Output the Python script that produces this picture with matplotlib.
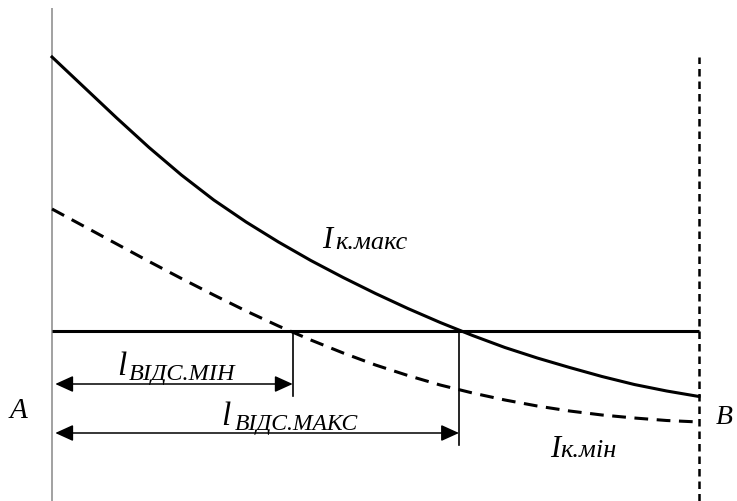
import matplotlib
matplotlib.use("Agg")
import matplotlib.pyplot as plt
from matplotlib.patches import FancyArrowPatch

# відстань від шин A до кінця лінії B (умовні одиниці)
distance = [0, 0.5, 1, 1.5, 2, 2.5, 3, 3.5, 4, 4.5, 5,
            5.5, 6, 6.5, 7, 7.5, 8, 8.5, 9, 9.5, 10]
# струм КЗ у максимальному режимі
i_max = [8.88, 8.27, 7.66, 7.07, 6.52, 6.02, 5.58, 5.18, 4.81, 4.47, 4.15,
         3.85, 3.57, 3.31, 3.07, 2.86, 2.67, 2.49, 2.33, 2.20, 2.09]
# струм КЗ у мінімальному режимі
i_min = [5.84, 5.49, 5.14, 4.79, 4.45, 4.12, 3.80, 3.50, 3.22, 2.96, 2.72,
         2.51, 2.32, 2.16, 2.02, 1.90, 1.80, 1.72, 1.66, 1.61, 1.58]

i_set = 3.4          # струм спрацювання відсічки
l_min = 3.72         # зона відсічки, мінімальний режим
l_max = 6.29         # зона відсічки, максимальний режим
line_end = 10

serif = ["Liberation Serif", "DejaVu Serif"]

fig = plt.figure(figsize=(7.37, 5.02), dpi=100)
ax = fig.add_axes([0, 0, 1, 1])
ax.set_xlim(-0.804, 10.587)
ax.set_ylim(0, 10.04)
ax.axis("off")

# вісь струму
ax.plot([0, 0], [0, 9.86], color="#9a9a9a", lw=1.3, solid_capstyle="butt")
# кінець лінії B
ax.plot([line_end, line_end], [0, i_max[0]], color="black", lw=1.8,
        dashes=(3, 2))

# криві струмів КЗ
ax.plot(distance, i_max, color="black", lw=2.2, zorder=3,
        solid_joinstyle="round")
ax.plot(distance, i_min, color="black", lw=2.2, dashes=(4.5, 2.8), zorder=3)

# рівень струму спрацювання
ax.plot([0, line_end], [i_set, i_set], color="black", lw=2.2,
        solid_capstyle="butt", zorder=2)

# межі зон та стрілки
ax.plot([l_min, l_min], [i_set, 2.10], color="black", lw=1.2)
ax.plot([l_max, l_max], [i_set, 1.12], color="black", lw=1.2)
for x_end, y in [(l_min, 2.34), (l_max, 1.36)]:
    arr = FancyArrowPatch((0.05, y), (x_end, y),
                          arrowstyle="<|-|>,head_length=0.55,head_width=0.25",
                          mutation_scale=20, shrinkA=0, shrinkB=0,
                          color="black", lw=1.1)
    ax.add_patch(arr)

# підписи
kw = dict(family=serif, style="italic", ha="left", va="baseline",
          color="black")
ax.text(1.00, 2.54, "l", fontsize=24, **kw)
ax.text(1.18, 2.44, "ВІДС.МІН", fontsize=17.5, **kw)
ax.text(2.62, 1.54, "l", fontsize=24, **kw)
ax.text(2.82, 1.44, "ВІДС.МАКС", fontsize=17, **kw)
ax.text(4.17, 5.08, "I", fontsize=22, **kw)
ax.text(4.37, 5.06, "к.макс", fontsize=19, **kw)
ax.text(7.70, 0.90, "I", fontsize=22, **kw)
ax.text(7.86, 0.90, "к.мін", fontsize=19, **kw)
ax.text(-0.66, 1.68, "A", fontsize=21, **kw)
ax.text(10.26, 1.56, "B", fontsize=20, **kw)

fig.savefig("out.png", dpi=100)
